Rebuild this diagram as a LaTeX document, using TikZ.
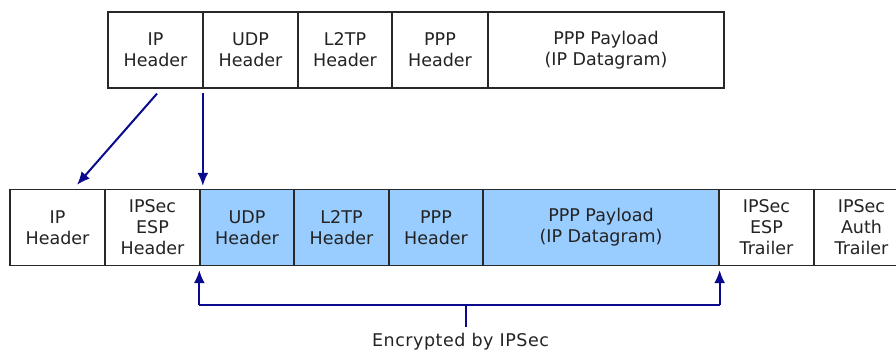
\documentclass[tikz,border=0pt]{standalone}
\usepackage{fontspec}
\setmainfont{DejaVu Sans}
\usetikzlibrary{arrows.meta,calc}
\definecolor{encblue}{RGB}{153,204,255}
\definecolor{arrnavy}{RGB}{10,10,140}
\definecolor{boxline}{RGB}{40,40,40}
\definecolor{txt}{RGB}{35,35,35}
\tikzset{
  cell/.style={draw=boxline, line width=1.3pt, fill=white, inner sep=0pt, align=center,
    font=\fontsize{17.5}{21}\selectfont, text=txt, minimum height=76pt},
  enc/.style={cell, fill=encblue},
  arr/.style={draw=arrnavy, line width=2pt, -{Latex[length=13pt,width=11pt]}},
  brk/.style={draw=arrnavy, line width=2pt},
  lbl/.style={font=\fontsize{17.5}{21}\selectfont\addfontfeatures{LetterSpace=3}, text=txt, inner sep=0pt}
}
\begin{document}
\begin{tikzpicture}[x=1pt,y=-1pt]
\useasboundingbox (0,0) rectangle (896,354);
% top row
\node[cell, minimum width=95pt]  (t1) at (155.5,50) {IP\\Header};
\node[cell, minimum width=95pt]  (t2) at (250.5,50) {UDP\\Header};
\node[cell, minimum width=94pt]  (t3) at (345,50)   {L2TP\\Header};
\node[cell, minimum width=96pt]  (t4) at (440,50)   {PPP\\Header};
\node[cell, minimum width=236pt] (t5) at (606,50)   {PPP Payload\\(IP Datagram)};
% bottom row
\node[cell, minimum width=95pt]  (b1) at (57.5,227.5)  {IP\\Header};
\node[cell, minimum width=95pt]  (b2) at (152.5,227.5) {IPSec\\ESP\\Header};
\node[enc,  minimum width=94pt]  (b3) at (247,227.5)   {UDP\\Header};
\node[enc,  minimum width=95pt]  (b4) at (341.5,227.5) {L2TP\\Header};
\node[enc,  minimum width=94pt]  (b5) at (436,227.5)   {PPP\\Header};
\node[enc,  minimum width=236pt] (b6) at (601,227.5)   {PPP Payload\\(IP Datagram)};
\node[cell, minimum width=95pt]  (b7) at (766.5,227.5) {IPSec\\ESP\\Trailer};
\node[cell, minimum width=95pt]  (b8) at (861.5,227.5) {IPSec\\Auth\\Trailer};
% mapping arrows
\coordinate (s1) at ($(t1.south)+(1.5,5)$);
\coordinate (e1) at ($(b1.north)+(19.5,-4)$);
\draw[arr] (s1) -- (e1);
\coordinate (s2) at ($(t2.south west)+(0.5,4)$);
\coordinate (e2) at ($(b3.north west)+(3.5,-3)$);
\draw[arr] (s2) -- (e2);
% encryption bracket
\coordinate (bl) at ($(b3.south west)+(0,39)$);
\coordinate (br) at ($(b6.south east)+(0,39)$);
\coordinate (tick) at (466,305);
\node[lbl] (enclbl) at (460.5,342) {Encrypted by IPSec};
\draw[brk] (bl) -- (br);
\draw[arr] (bl) -- ($(b3.south west)+(0,4)$);
\draw[arr] (br) -- ($(b6.south east)+(0,4)$);
\draw[brk] (tick) -- ($(tick)+(0,22)$);
\end{tikzpicture}
\end{document}
